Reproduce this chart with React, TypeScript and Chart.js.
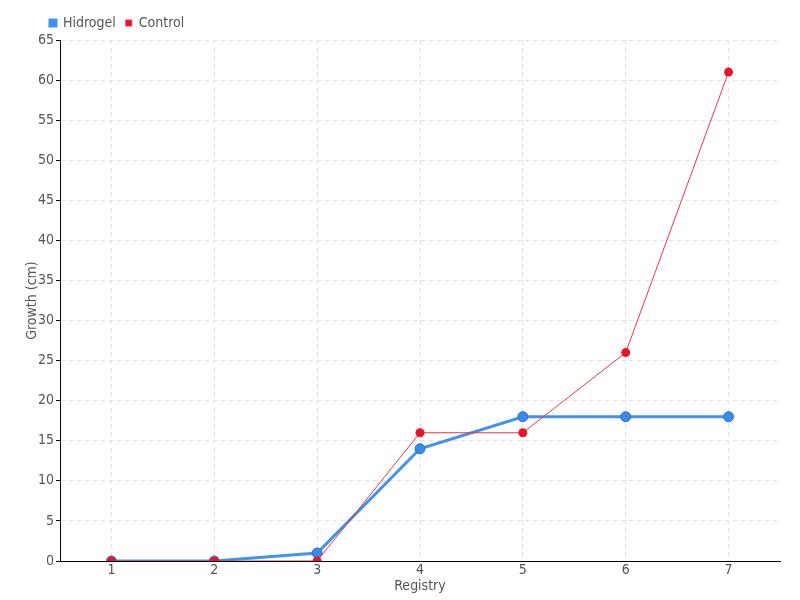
import React, { useEffect, useRef } from "react";
import { Chart, registerables } from "chart.js";

Chart.register(...registerables);

const categories = ["1", "2", "3", "4", "5", "6", "7"];
const hidrogelValues = [0, 0, 1, 14, 18, 18, 18];
const controlValues = [0, 0, 0, 16, 16, 26, 61];
const yMin = 0;
const yMax = 65;
const yStep = 5;

const FONT = "'Liberation Sans Narrow', 'DejaVu Sans Condensed', 'Noto Sans', sans-serif";
const TEXT = "#555555";
const GRID = "#e2e2e2";

const legendShift = {
  id: "legendShift",
  afterLayout(chart: any) {
    if (chart.legend) {
      chart.legend.left += 25;
      chart.legend.right += 25;
    }
  },
};

export default function App() {
  const ref = useRef<HTMLCanvasElement | null>(null);
  useEffect(() => {
    if (!ref.current) return;
    const chart = new Chart(ref.current, {
      type: "line",
      data: {
        labels: categories,
        datasets: [
          {
            label: "Hidrogel",
            data: hidrogelValues,
            borderColor: "#4193ee",
            backgroundColor: "#3a8aea",
            borderWidth: 3,
            pointRadius: 5,
            pointBorderWidth: 1,
            pointBorderColor: "#2b6fcc",
            pointBackgroundColor: "#3a8aea",
            tension: 0,
            order: 2,
          },
          {
            label: "Control",
            data: controlValues,
            borderColor: "#f03646",
            backgroundColor: "#e8142a",
            borderWidth: 1,
            pointRadius: 4.5,
            pointBorderWidth: 0,
            pointBackgroundColor: "#e8142a",
            tension: 0,
            order: 1,
          },
        ],
      },
      options: {
        animation: false,
        responsive: false,
        layout: { padding: { left: 15, right: 20, top: 6, bottom: 7 } },
        plugins: {
          legend: {
            position: "top",
            align: "start",
            labels: {
              boxWidth: 6,
              boxHeight: 6,
              padding: 10,
              color: TEXT,
              font: { family: FONT, size: 14 },
              sort: (a: any, b: any) => a.datasetIndex - b.datasetIndex,
            },
          },
          tooltip: { enabled: false },
        },
        scales: {
          x: {
            offset: true,
            grid: {
              offset: false,
              color: GRID,
              drawTicks: false,
              borderDash: [4, 4],
            } as any,
            border: { display: true, color: "#000000", width: 1, dash: [4, 4] },
            ticks: { color: TEXT, padding: 2, font: { family: FONT, size: 14, lineHeight: 1 } },
            title: {
              display: true,
              text: "Registry",
              color: TEXT,
              padding: { top: 0, bottom: 0 },
              font: { family: FONT, size: 14, lineHeight: 1 },
            },
          },
          y: {
            min: yMin,
            max: yMax,
            grid: {
              color: GRID,
              drawTicks: true,
              tickLength: 4,
              tickColor: "#000000",
              tickBorderDash: [],
              borderDash: [4, 4],
            } as any,
            border: { display: true, color: "#000000", width: 1, dash: [4, 4] },
            ticks: {
              stepSize: yStep,
              color: TEXT,
              padding: 2,
              font: { family: FONT, size: 14 },
            },
            title: {
              display: true,
              text: "Growth (cm)",
              color: TEXT,
              padding: { top: 9, bottom: 0 },
              font: { family: FONT, size: 14 },
            },
            afterFit(scale: any) {
              scale.width = 45;
            },
          },
        },
      },
      plugins: [legendShift],
    });
    return () => chart.destroy();
  }, []);
  return (
    <div style={{ position: "fixed", left: 0, top: 0, width: 800, height: 600, background: "#fff" }}>
      <canvas ref={ref} width={800} height={600} style={{ width: 800, height: 600, display: "block" }} />
    </div>
  );
}
